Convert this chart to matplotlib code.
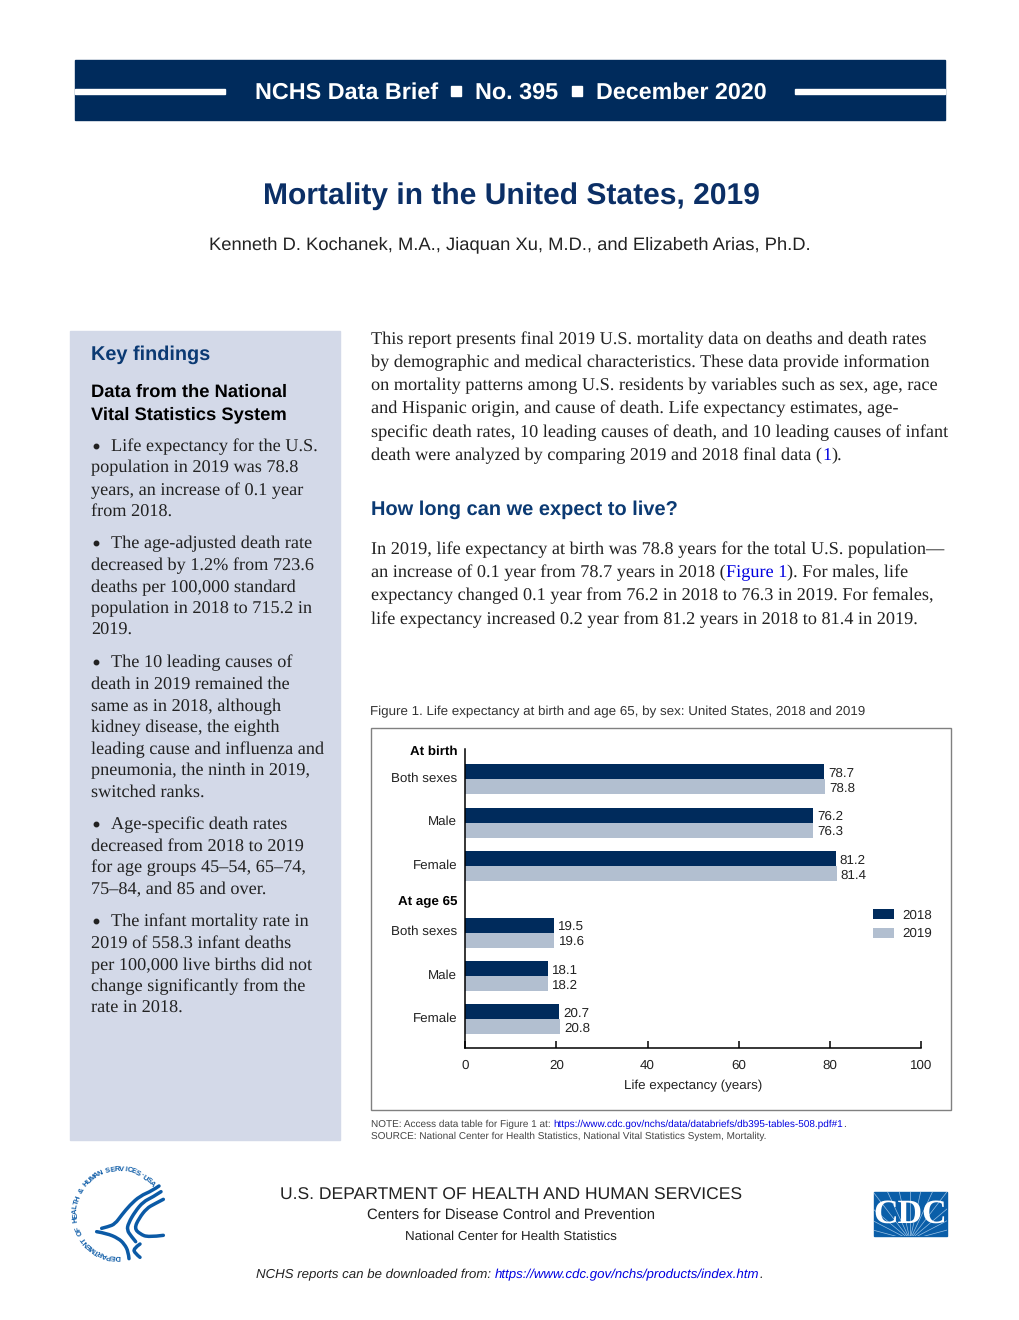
import numpy as np
import matplotlib
matplotlib.use("Agg")
import matplotlib.pyplot as plt
from matplotlib.patches import Rectangle, PathPatch
from matplotlib.path import Path
from matplotlib.transforms import ScaledTranslation

plt.rcParams["text.hinting"] = "no_hinting"

# chart data
groups = ["At birth", "At age 65"]
categories = ["Both sexes", "Male", "Female"]
values_2018 = [78.7, 76.2, 81.2, 19.5, 18.1, 20.7]
values_2019 = [78.8, 76.3, 81.4, 19.6, 18.2, 20.8]
xticks = [0, 20, 40, 60, 80, 100]

# page text
intro = [
    "This report presents final 2019 U.S. mortality data on deaths and death rates",
    "by demographic and medical characteristics. These data provide information",
    "on mortality patterns among U.S. residents by variables such as sex, age, race",
    "and Hispanic origin, and cause of death. Life expectancy estimates, age-",
    "specific death rates, 10 leading causes of death, and 10 leading causes of infant",
]
paragraph = [
    "In 2019, life expectancy at birth was 78.8 years for the total U.S. population\u2014",
    None,
    "expectancy changed 0.1 year from 76.2 in 2018 to 76.3 in 2019. For females,",
    "life expectancy increased 0.2 year from 81.2 years in 2018 to 81.4 in 2019.",
]
findings = [
    (445, True, "Life expectancy for the U.S."), (466, False, "population in 2019 was 78.8"),
    (489, False, "years, an increase of 0.1 year"), (510, False, "from 2018."),
    (542, True, "The age-adjusted death rate"), (564, False, "decreased by 1.2% from 723.6"),
    (586, False, "deaths per 100,000 standard"), (607, False, "population in 2018 to 715.2 in"),
    (629, False, "2019."),
    (661, True, "The 10 leading causes of"), (683, False, "death in 2019 remained the"),
    (705, False, "same as in 2018, although"), (726, False, "kidney disease, the eighth"),
    (748, False, "leading cause and influenza and"), (769, False, "pneumonia, the ninth in 2019,"),
    (791, False, "switched ranks."),
    (823, True, "Age-specific death rates"), (845, False, "decreased from 2018 to 2019"),
    (866, False, "for age groups 45\u201354, 65\u201374,"), (888, False, "75\u201384, and 85 and over."),
    (920, True, "The infant mortality rate in"), (942, False, "2019 of 558.3 infant deaths"),
    (964, False, "per 100,000 live births did not"), (985, False, "change significantly from the"),
    (1007, False, "rate in 2018."),
]

NAVY = "#002b5c"
LIGHT = "#b2bfd0"
BLUE = "#0000e0"
SANS = "Liberation Sans"
SERIF = "Liberation Serif"
BODY = 13.18
CHART = 9.6
INK = "#222222"

fig = plt.figure(figsize=(10.2, 13.2), dpi=100)
page = fig.add_axes([0, 0, 1, 1])
page.set_xlim(0, 1020)
page.set_ylim(1320, 0)
page.axis("off")
renderer = fig.canvas.get_renderer()


def put(x, y, s, size, family=SANS, color="black", weight="normal", style="normal", ha="left"):
    # y is the visual middle of the line, drawn on a baseline so lines do not jitter
    return page.text(x, y + 0.32 * size * 100 / 72, s, fontsize=size, family=family, color=color,
                     weight=weight, style=style, ha=ha, va="baseline")


def put_run(x, y, parts, size, family=SANS, style="normal"):
    # several colours on one line
    for s, color in parts:
        t = put(x, y, s, size, family=family, color=color, style=style)
        x = x + t.get_window_extent(renderer).width


def smooth_line(points, lw):
    # quadratic spline through the midpoints of the traced points
    verts = [points[0]]
    codes = [Path.MOVETO]
    for i in range(1, len(points) - 1):
        end = points[i + 1] if i == len(points) - 2 else ((points[i][0] + points[i + 1][0]) / 2,
                                                           (points[i][1] + points[i + 1][1]) / 2)
        verts += [points[i], end]
        codes += [Path.CURVE3, Path.CURVE3]
    page.add_patch(PathPatch(Path(verts, codes), fc="none", ec=SEAL, lw=lw, capstyle="round"))


# header band
page.add_patch(Rectangle((75, 60), 870, 60, color=NAVY))
page.add_patch(Rectangle((75, 88.5), 150, 5, color="white"))
page.add_patch(Rectangle((795, 88.5), 150, 5, color="white"))
put(255, 91, "NCHS Data Brief", 16.8, color="white", weight="bold")
page.add_patch(Rectangle((451, 85.5), 10, 10, color="white"))
put(475, 91, "No. 395", 16.8, color="white", weight="bold")
page.add_patch(Rectangle((572, 85.5), 10, 10, color="white"))
put(596, 91, "December 2020", 16.75, color="white", weight="bold")

put(511, 194, "Mortality in the United States, 2019", 21.6, color="#0b2f66", weight="bold", ha="center")
put(510, 243, "Kenneth D. Kochanek, M.A., Jiaquan Xu, M.D., and Elizabeth Arias, Ph.D.", 13.25,
    color=INK, ha="center")

# key findings panel
page.add_patch(Rectangle((70, 331), 270, 809, color="#d3d9e8"))
put(91, 353, "Key findings", 14.3, color="#0b3a73", weight="bold")
put(91, 391, "Data from the National", 13.2, weight="bold")
put(91, 413, "Vital Statistics System", 13.2, weight="bold")
for y, bullet, line in findings:
    if bullet:
        page.plot([96], [y + 1], "o", color=INK, ms=3.2)
        put(111, y, line, BODY, family=SERIF, color=INK)
    else:
        put(91, y, line, BODY, family=SERIF, color=INK)

# right column text
for i, line in enumerate(intro):
    put(371, 338 + i * 23.2, line, BODY, family=SERIF, color=INK)
put_run(371, 454, [("death were analyzed by comparing 2019 and 2018 final data (", INK),
                   ("1", BLUE), (").", INK)], BODY, family=SERIF)
put(371, 508, "How long can we expect to live?", 14.4, color="#0b3a73", weight="bold")
for i, line in enumerate(paragraph):
    if line is not None:
        put(371, 548 + i * 23.3, line, BODY, family=SERIF, color=INK)
put_run(371, 571, [("an increase of 0.1 year from 78.7 years in 2018 (", INK), ("Figure 1", BLUE),
                   ("). For males, life", INK)], BODY, family=SERIF)

# figure frame and caption
put(370, 711, "Figure 1. Life expectancy at birth and age 65, by sex: United States, 2018 and 2019", 9.6,
    color="#333333")
page.add_patch(Rectangle((371.5, 728), 579.5, 382, fc="white", ec="#808080", lw=1))
put_run(371, 1124, [("NOTE: Access data table for Figure 1 at: ", "#444444"),
                    ("https://www.cdc.gov/nchs/data/databriefs/db395-tables-508.pdf#1", BLUE),
                    (".", "#444444")], 7.2)
put(371, 1136, "SOURCE: National Center for Health Statistics, National Vital Statistics System, Mortality.",
    7.2, color="#444444")

# footer
put(511, 1194, "U.S. DEPARTMENT OF HEALTH AND HUMAN SERVICES", 12.6, ha="center", color=INK)
put(511, 1215, "Centers for Disease Control and Prevention", 10.75, ha="center", color=INK)
put(511, 1236, "National Center for Health Statistics", 9.63, ha="center", color=INK)
put_run(256, 1274, [("NCHS reports can be downloaded from: ", INK),
                    ("https://www.cdc.gov/nchs/products/index.htm", BLUE), (".", INK)], 9.55, style="italic")

# HHS seal, ring of letters
SEAL = "#0b5aa6"
seal_text = "DEPARTMENT OF HEALTH & HUMAN SERVICES\u00b7USA"
seal_angles = np.linspace(268, 42, len(seal_text))
for ch, a in zip(seal_text, seal_angles):
    r = np.radians(a)
    page.text(119 + 44 * np.cos(r), 1213 - 44 * np.sin(r), ch, fontsize=5.4, family=SANS,
              weight="bold", color=SEAL, rotation=a - 90, ha="center", va="center")

stripes = [
    [(282, 78), (262, 92), (225, 108), (195, 135), (170, 165), (150, 192), (130, 200), (110, 205)],
    [(288, 95), (262, 112), (235, 125), (210, 155), (190, 190), (186, 210), (198, 228), (212, 245)],
    [(295, 118), (268, 132), (245, 145), (222, 175), (208, 205), (225, 222), (250, 232), (295, 226)],
    [(95, 215), (125, 220), (160, 235), (178, 252), (190, 275), (192, 296)],
    [(225, 252), (205, 266), (210, 280), (225, 292)],
]
for st in stripes:
    smooth_line([(65 + p[0] / 3, 1160 + p[1] / 3) for p in st], 2.5)

# CDC logo
logo = Rectangle((874, 1192), 73, 44, color="#0a5ea8")
page.add_patch(logo)
for a in np.linspace(15, 165, 13):
    r = np.radians(a)
    ray, = page.plot([910, 910 + 70 * np.cos(r)], [1240, 1240 - 70 * np.sin(r)], color="#9cc3e6", lw=0.5)
    ray.set_clip_path(logo)
page.text(910.5, 1214, "CDC", fontsize=24.5, family=SERIF, weight="bold", color="white", ha="center",
          va="center", zorder=3)

# the chart itself
ax = fig.add_axes([465 / 1020, 1 - 1048 / 1320, (921.5 - 465) / 1020, (1048 - 749) / 1320])
ax.patch.set_alpha(0)
unit_pos = np.array([0, 1, 2, 3.54, 4.54, 5.54])
header_pos = [-0.63, 2.82]
bar_h = 0.346
b1 = ax.barh(unit_pos - bar_h / 2, values_2018, height=bar_h, color=NAVY, label="2018")
b2 = ax.barh(unit_pos + bar_h / 2, values_2019, height=bar_h, color=LIGHT, label="2019")
for bars in (b1, b2):
    for t in ax.bar_label(bars, fmt="%.1f", padding=3, fontsize=CHART, family=SANS, color=INK):
        t.xyann = (t.xyann[0], t.xyann[1] - 1.2)

ax.set_xlim(0, 100)
ax.set_ylim(6.205, -0.70)
ax.set_xticks(xticks)
ax.set_yticks(list(header_pos) + list(unit_pos))
ax.set_yticklabels(groups + categories * 2)
ax.tick_params(axis="y", length=0, pad=5.5, labelsize=CHART, labelcolor=INK)
ax.tick_params(axis="x", direction="in", length=5, width=1.1, pad=8, labelsize=CHART, labelcolor=INK)
for lab in ax.get_xticklabels() + ax.get_yticklabels():
    lab.set_family(SANS)
for lab in ax.get_yticklabels():
    lab.set_transform(lab.get_transform() + ScaledTranslation(0, 1.5 / 72, fig.dpi_scale_trans))
for lab in ax.get_yticklabels()[:2]:
    lab.set_weight("bold")
    lab.set_color("black")
ax.set_xlabel("Life expectancy (years)", fontsize=CHART, family=SANS, color=INK, labelpad=6.5)
ax.spines[["top", "right"]].set_visible(False)
ax.spines[["left", "bottom"]].set_linewidth(1.1)
ax.legend(loc="center left", bbox_to_anchor=(873.5 / 1020, 1 - 924.5 / 1320), bbox_transform=fig.transFigure,
          frameon=False, borderpad=0, borderaxespad=0, handlelength=1.55, handleheight=0.78,
          labelspacing=0.45, handletextpad=0.6, prop={"family": SANS, "size": CHART}, labelcolor=INK)

fig.savefig("out.png", dpi=100)
